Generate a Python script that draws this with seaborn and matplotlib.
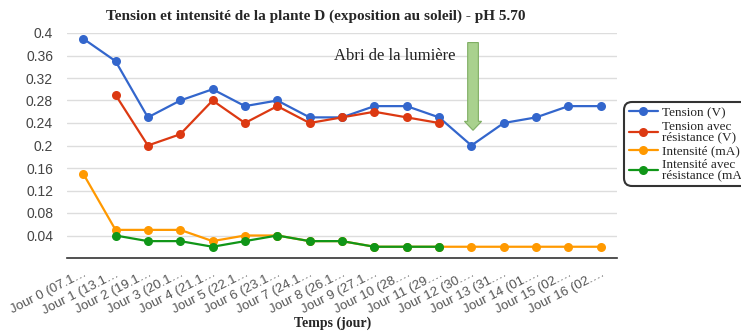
import numpy as np
import pandas as pd
import matplotlib
matplotlib.use("Agg")
import matplotlib.pyplot as plt
import seaborn as sns

# Day labels (truncated as shown on the axis)
jours = ["Jour 0 (07.1…", "Jour 1 (13.1…", "Jour 2 (19.1…", "Jour 3 (20.1…",
         "Jour 4 (21.1…", "Jour 5 (22.1…", "Jour 6 (23.1…", "Jour 7 (24.1…",
         "Jour 8 (26.1…", "Jour 9 (27.1…", "Jour 10 (28.…", "Jour 11 (29.…",
         "Jour 12 (30.…", "Jour 13 (31.…", "Jour 14 (01.…", "Jour 15 (02.…",
         "Jour 16 (02.…"]

tension = [0.39, 0.35, 0.25, 0.28, 0.30, 0.27, 0.28, 0.25, 0.25, 0.27, 0.27,
           0.25, 0.20, 0.24, 0.25, 0.27, 0.27]
tension_res = [None, 0.29, 0.20, 0.22, 0.28, 0.24, 0.27, 0.24, 0.25, 0.26,
               0.25, 0.24, None, None, None, None, None]
intensite = [0.15, 0.05, 0.05, 0.05, 0.03, 0.04, 0.04, 0.03, 0.03, 0.02,
             0.02, 0.02, 0.02, 0.02, 0.02, 0.02, 0.02]
intensite_res = [None, 0.04, 0.03, 0.03, 0.02, 0.03, 0.04, 0.03, 0.03, 0.02,
                 0.02, 0.02, None, None, None, None, None]

series_names = ["Tension (V)", "Tension avec\nrésistance (V)",
                "Intensité (mA)", "Intensité avec\nrésistance (mA)"]
series_values = [tension, tension_res, intensite, intensite_res]
colors = ["#3366CC", "#DC3912", "#FF9900", "#109618"]

rows = []
for name, vals in zip(series_names, series_values):
    for i, v in enumerate(vals):
        if v is not None:
            rows.append({"jour": i, "valeur": v, "serie": name})
df = pd.DataFrame(rows)

sns.set_theme(style="white")
plt.rcParams["font.family"] = ["Liberation Sans", "DejaVu Sans"]

fig = plt.figure(figsize=(7.41, 3.31), dpi=100)
W, H = 741, 331
ax = fig.add_axes([67 / W, 1 - 258 / H, 550 / W, 225 / H])

sns.lineplot(data=df, x="jour", y="valeur", hue="serie",
             hue_order=series_names, palette=colors, marker="o",
             markersize=6.5, markeredgewidth=0, linewidth=1.6,
             ax=ax, legend=False, clip_on=False, zorder=3)

ax.set_xlim(-0.5, len(jours) - 0.5)
ax.set_ylim(0, 0.4)
yt = [0.04, 0.08, 0.12, 0.16, 0.2, 0.24, 0.28, 0.32, 0.36, 0.4]
ax.set_yticks(yt)
ax.set_yticklabels(["0.04", "0.08", "0.12", "0.16", "0.2", "0.24", "0.28",
                    "0.32", "0.36", "0.4"], fontsize=10, color="#444444")
ax.grid(axis="y", color="#dddddd", linewidth=1)
ax.set_axisbelow(True)
for s in ["top", "right", "left"]:
    ax.spines[s].set_visible(False)
ax.spines["bottom"].set_color("#333333")
ax.spines["bottom"].set_linewidth(1.2)

ax.set_xticks(range(len(jours)))
ax.set_xticklabels(jours, rotation=27, ha="right", va="top",
                   rotation_mode="anchor", fontsize=9.5, color="#555555")
ax.tick_params(axis="x", length=0, pad=7)
ax.tick_params(axis="y", length=0, pad=10)

ax.set_xlabel("")
ax.set_ylabel("")
fig.text(333 / W, 1 - 323 / H, "Temps (jour)", family="Liberation Serif",
         fontweight="bold", fontsize=10, ha="center", va="center")

fig.text(316 / W, 1 - 16 / H,
         "Tension et intensité de la plante D (exposition au soleil) - pH 5.70",
         family="Liberation Serif", fontweight="bold", fontsize=11,
         ha="center", va="center")

# Shade annotation
ax.text(9.63, 0.36, "Abri de la lumière",
        family="Liberation Serif", fontsize=12, ha="center", va="center",
        color="#222222")
ax.arrow(12.05, 0.383, 0, -0.156, width=0.33, head_width=0.53,
         head_length=0.016, length_includes_head=True,
         facecolor="#a9d18e", edgecolor="#7fae63", linewidth=0.8,
         zorder=4, clip_on=False)

# Legend
handles = [plt.Line2D([], [], color=c, marker="o", markersize=6.5,
                      markeredgewidth=0, linewidth=1.6) for c in colors]
leg = fig.legend(handles, series_names, loc="upper left",
                 bbox_to_anchor=(624 / W, 1 - 102 / H),
                 prop={"family": "Liberation Serif", "size": 9.5},
                 frameon=True, fancybox=True, edgecolor="black",
                 handlelength=2.2, handletextpad=0.3, labelspacing=0.15,
                 borderpad=0.35, borderaxespad=0)
leg.get_frame().set_linewidth(1.5)
leg.get_frame().set_boxstyle("round", pad=0, rounding_size=0.6)
for t in leg.get_texts():
    t.set_linespacing(0.8)

fig.savefig("out.png", dpi=100)
